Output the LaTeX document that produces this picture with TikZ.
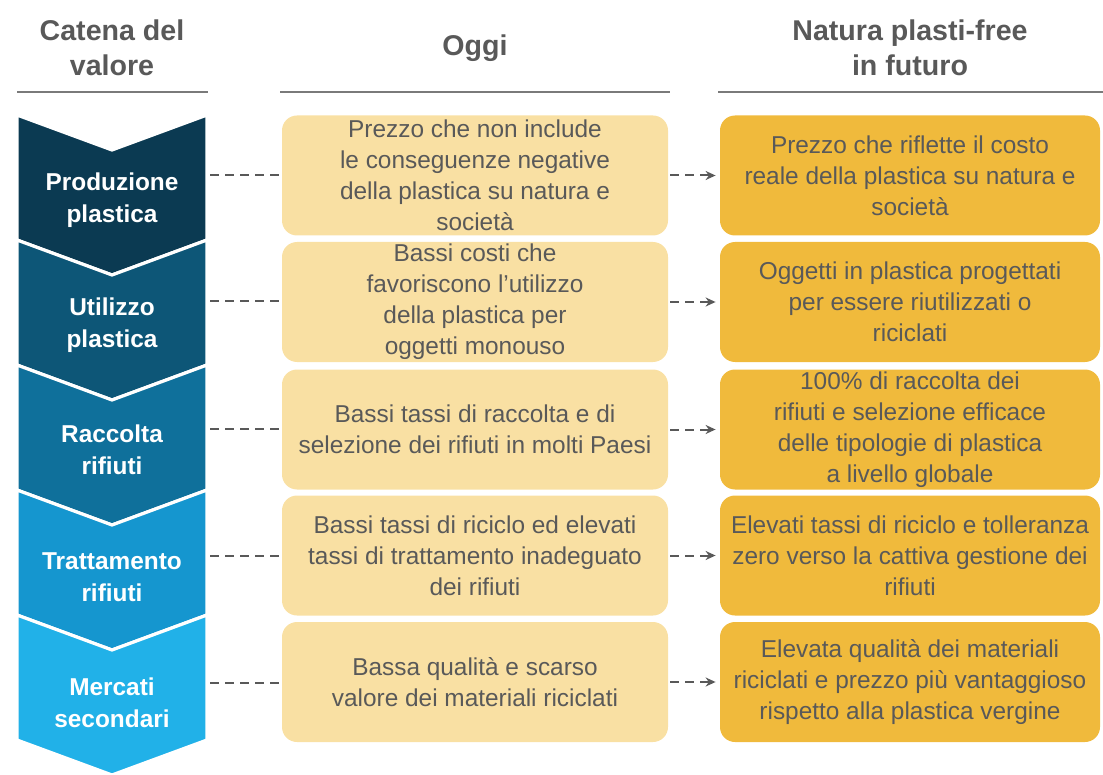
\documentclass[tikz,border=0pt]{standalone}
\usepackage{fontspec}
\setmainfont{Liberation Sans}
\usetikzlibrary{positioning,arrows.meta}
\definecolor{blu1}{HTML}{0B3A52}
\definecolor{blu2}{HTML}{0D5677}
\definecolor{blu3}{HTML}{0F709B}
\definecolor{blu4}{HTML}{1596CF}
\definecolor{blu5}{HTML}{21B1E8}
\definecolor{giallino}{HTML}{F9E0A3}
\definecolor{ocra}{HTML}{F0BA3C}
\definecolor{grigio}{HTML}{595959}
\tikzset{heading/.style={text=grigio, font=\bfseries\fontsize{14.3}{17.5}\selectfont, align=center},
        rule/.style={draw=grigio!80, line width=0.8pt},
        chevron/.style={draw=white, line width=1.6pt, line join=miter},
        stage/.style={text=white, font=\bfseries\fontsize{12.2}{16}\selectfont, align=center},
        oggi box/.style={fill=giallino, rounded corners=7.5pt, minimum width=193pt,
                         minimum height=60pt, text=grigio, align=center,
                         font=\fontsize{12.2}{15.5}\selectfont, inner sep=0pt},
        futuro box/.style={oggi box, fill=ocra, minimum width=190pt},
        link/.style={draw=grigio, line width=1pt, dash pattern=on 4.5pt off 3pt},
        link arrow/.style={link, -{Stealth[length=5pt,width=4.5pt]}, shorten <=1pt, shorten >=2pt},
        }
\begin{document}
\begin{tikzpicture}[x=0.5pt,y=-0.5pt]
    \useasboundingbox (0,0) rectangle (1103,775);

    \node[heading] (hcatena) at (112,48) {Catena del\\valore};
    \node[heading] (hoggi) at (475,48) {Oggi};
    \node[heading] (hfuturo) at (910,48) {Natura plasti-free\\in futuro};
    \draw[rule] (17,92) -- (208,92);
    \draw[rule] (280,92) -- (670,92);
    \draw[rule] (718,92) -- (1103,92);

    % catena del valore
    \fill[blu1, chevron] (17,115) -- (112,150) -- (207,115) -- (207,240) -- (112,275) -- (17,240) -- cycle;
    \fill[blu2, chevron] (17,240) -- (112,275) -- (207,240) -- (207,365) -- (112,400) -- (17,365) -- cycle;
    \fill[blu3, chevron] (17,365) -- (112,400) -- (207,365) -- (207,490) -- (112,525) -- (17,490) -- cycle;
    \fill[blu4, chevron] (17,490) -- (112,525) -- (207,490) -- (207,615) -- (112,650) -- (17,615) -- cycle;
    \fill[blu5, chevron] (17,615) -- (112,650) -- (207,615) -- (207,740) -- (112,775) -- (17,740) -- cycle;

    \node[stage] (produzione) at (112,200) {Produzione\\plastica};
    \node[stage] (utilizzo) at (112,325) {Utilizzo\\plastica};
    \node[stage] (raccolta) at (112,450) {Raccolta\\rifiuti};
    \node[stage] (trattamento) at (112,577) {Trattamento\\rifiuti};
    \node[stage] (mercati) at (112,703) {Mercati\\secondari};

    \coordinate (produzione-e) at (210,175);
    \coordinate (utilizzo-e) at (210,301);
    \coordinate (raccolta-e) at (210,429);
    \coordinate (trattamento-e) at (210,556);
    \coordinate (mercati-e) at (210,683);

    % oggi
    \node[oggi box] (oggi1) at (475,175.5) {Prezzo che non include\\le conseguenze negative\\della plastica su natura e\\società};
    \node[oggi box] (oggi2) at (475,302) {Bassi costi che\\favoriscono l’utilizzo\\della plastica per\\oggetti monouso};
    \node[oggi box] (oggi3) at (475,429.5) {Bassi tassi di raccolta e di\\selezione dei rifiuti in molti Paesi};
    \node[oggi box] (oggi4) at (475,555.5) {Bassi tassi di riciclo ed elevati\\tassi di trattamento inadeguato\\dei rifiuti};
    \node[oggi box] (oggi5) at (475,682) {Bassa qualità e scarso\\valore dei materiali riciclati};

    % futuro
    \node[futuro box] (futuro1) at (910,175.5) {Prezzo che riflette il costo\\reale della plastica su natura e\\società};
    \node[futuro box] (futuro2) at (910,302) {Oggetti in plastica progettati\\per essere riutilizzati o\\riciclati};
    \node[futuro box] (futuro3) at (910,429.5) {100\% di raccolta dei\\rifiuti e selezione efficace\\delle tipologie di plastica\\a livello globale};
    \node[futuro box] (futuro4) at (910,555.5) {Elevati tassi di riciclo e tolleranza\\zero verso la cattiva gestione dei\\rifiuti};
    \node[futuro box] (futuro5) at (910,682) {Elevata qualità dei materiali\\riciclati e prezzo più vantaggioso\\rispetto alla plastica vergine};

    \draw[link] (produzione-e) -- (produzione-e -| oggi1.west);
    \draw[link] (utilizzo-e) -- (utilizzo-e -| oggi2.west);
    \draw[link] (raccolta-e) -- (raccolta-e -| oggi3.west);
    \draw[link] (trattamento-e) -- (trattamento-e -| oggi4.west);
    \draw[link] (mercati-e) -- (mercati-e -| oggi5.west);

    \draw[link arrow] (oggi1.east) -- (futuro1.west);
    \draw[link arrow] (oggi2.east) -- (futuro2.west);
    \draw[link arrow] (oggi3.east) -- (futuro3.west);
    \draw[link arrow] (oggi4.east) -- (futuro4.west);
    \draw[link arrow] (oggi5.east) -- (futuro5.west);

\end{tikzpicture}
\end{document}
